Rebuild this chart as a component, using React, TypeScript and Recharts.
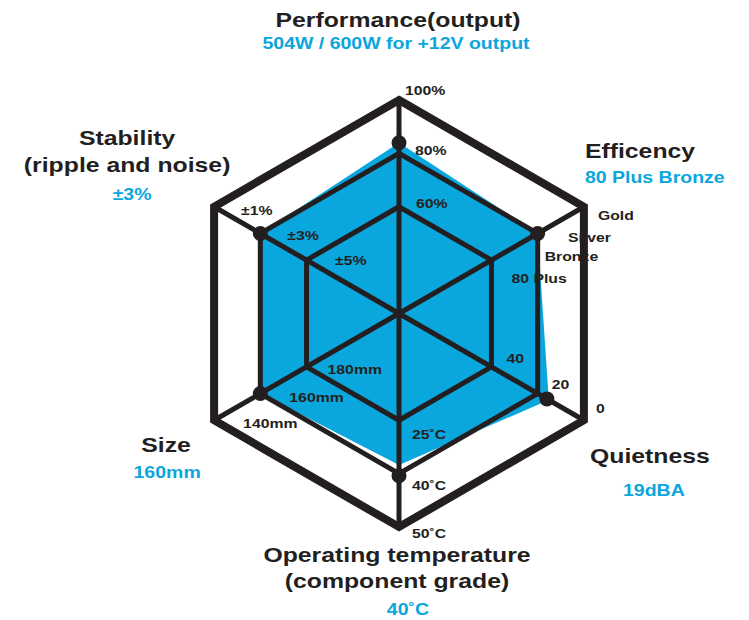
import React from "react";
import { RadarChart, Radar, PolarGrid, PolarAngleAxis, PolarRadiusAxis } from "recharts";

// axes, clockwise from the top
const categories = ["Performance", "Efficiency", "Quietness", "Operating temperature", "Size", "Stability"];
// black rating dots
const ratingValues = [80, 75, 80, 76, 75, 75];
// blue filled area (slightly off the dots in the original artwork)
const areaValues = [80, 75, 81, 71, 75, 75];

const titles = [
    ["Performance(output)"],
    ["Efficency"],
    ["Quietness"],
    ["Operating temperature", "(component grade)"],
    ["Size"],
    ["Stability", "(ripple and noise)"],
];
const subtitles = ["504W / 600W for +12V output", "80 Plus Bronze", "19dBA", "40˚C", "160mm", "±3%"];

const tickLabels = [
    ["100%", "80%", "60%"],
    ["Gold", "Silver", "Bronze", "80 Plus"],
    ["0", "20", "40"],
    ["50˚C", "40˚C", "25˚C"],
    ["140mm", "160mm", "180mm"],
    ["±1%", "±3%", "±5%"],
];

const data = categories.map((name, i) => ({ name, rating: ratingValues[i], area: areaValues[i] }));

// layout
const W = 749;
const H = 620;
const CX = 399;
const CY = 313.5;
const R = 213.5;
const INK = "#231f20";
const BLUE = "#0aa6de";

// [ring fraction, dx, dy] for every tick label
const tickLayout = [
    [[1, 6, -5], [0.75, 16, 2], [0.5, 17, 1]],
    [[1, 14, 13], [1, -16, 35], [0.75, 7, 28], [0.5, 20, 23]],
    [[1, 12, -7], [0.75, 14, -5], [0.5, 15, -4]],
    [[1, 13, 11], [0.75, 13, 16], [0.5, 13, 19]],
    [[1, 29, 8], [0.75, 29, 8], [0.5, 21, 7]],
    [[1, 27, 8], [0.75, 27, 7], [0.5, 28.5, 5]],
];

// title: [dx, dy of first baseline, line gap, anchor, subtitle dx, subtitle dy]
const titleLayout: [number, number, number, string, number, number][] = [
    [-1, -73, 0, "middle", -3, -51],
    [1, -49, 0, "start", 1, -24],
    [66, 43, 0, "middle", 70, 76],
    [-2, 35, 26, "middle", 9, 88],
    [-48, 32, 0, "middle", -47, 58],
    [-87, -62, 27, "middle", -82, -7],
];

const polar = (r: number, i: number) => {
    const a = ((90 - i * 60) * Math.PI) / 180;
    return { x: CX + r * Math.cos(a), y: CY - r * Math.sin(a) };
};

function Stretch({ x, y, size, fill, anchor, sx, children }: any) {
    return (
        <text
            transform={`translate(${x},${y}) scale(${sx},1)`}
            x={0}
            y={0}
            fontSize={size}
            fontWeight="bold"
            fontFamily="'Liberation Sans', Arial, sans-serif"
            fill={fill}
            textAnchor={anchor}
        >
            {children}
        </text>
    );
}

function AxisTick(props: any) {
    const i = categories.indexOf(props.payload.value);
    if (i < 0) return null;
    const v = polar(R, i);
    const [dx, dy, gap, anchor, sdx, sdy] = titleLayout[i];
    return (
        <g>
            {titles[i].map((t, k) => (
                <Stretch key={t} x={v.x + dx} y={v.y + dy + k * gap} size={20} fill={INK} anchor={anchor} sx={1.24}>
                    {t}
                </Stretch>
            ))}
            <Stretch x={v.x + sdx} y={v.y + sdy} size={16} fill={BLUE} anchor={anchor} sx={1.22}>
                {subtitles[i]}
            </Stretch>
            {tickLabels[i].map((t, k) => {
                const [f, tx, ty] = tickLayout[i][k];
                const p = polar(R * f, i);
                return (
                    <Stretch key={t} x={p.x + tx} y={p.y + ty} size={13.5} fill={INK} anchor="start" sx={1.17}>
                        {t}
                    </Stretch>
                );
            })}
        </g>
    );
}

export default function App() {
    return (
        <div style={{ position: "absolute", left: 0, top: 0, width: W, height: H, background: "#fff" }}>
            <RadarChart width={W} height={H} data={data} cx={CX} cy={CY} outerRadius={R} margin={{ top: 0, right: 0, bottom: 0, left: 0 }}>
                <PolarRadiusAxis domain={[0, 100]} tick={false} axisLine={false} />
                <Radar
                    dataKey="area"
                    fill={BLUE}
                    fillOpacity={1}
                    stroke="none"
                    isAnimationActive={false}
                    zIndex={100}
                />
                <PolarGrid
                    gridType="polygon"
                    polarRadius={[R * 0.5, R * 0.75]}
                    stroke={INK}
                    strokeWidth={5}
                    zIndex={200}
                />
                <PolarAngleAxis
                    dataKey="name"
                    axisLineType="polygon"
                    axisLine={{ stroke: INK, strokeWidth: 8 }}
                    tickLine={false}
                    tick={<AxisTick />}
                    zIndex={300}
                />
                <Radar
                    dataKey="rating"
                    fill="none"
                    stroke="none"
                    dot={{ r: 7.5, fill: INK, fillOpacity: 1, stroke: "none" }}
                    isAnimationActive={false}
                    zIndex={400}
                />
            </RadarChart>
        </div>
    );
}
